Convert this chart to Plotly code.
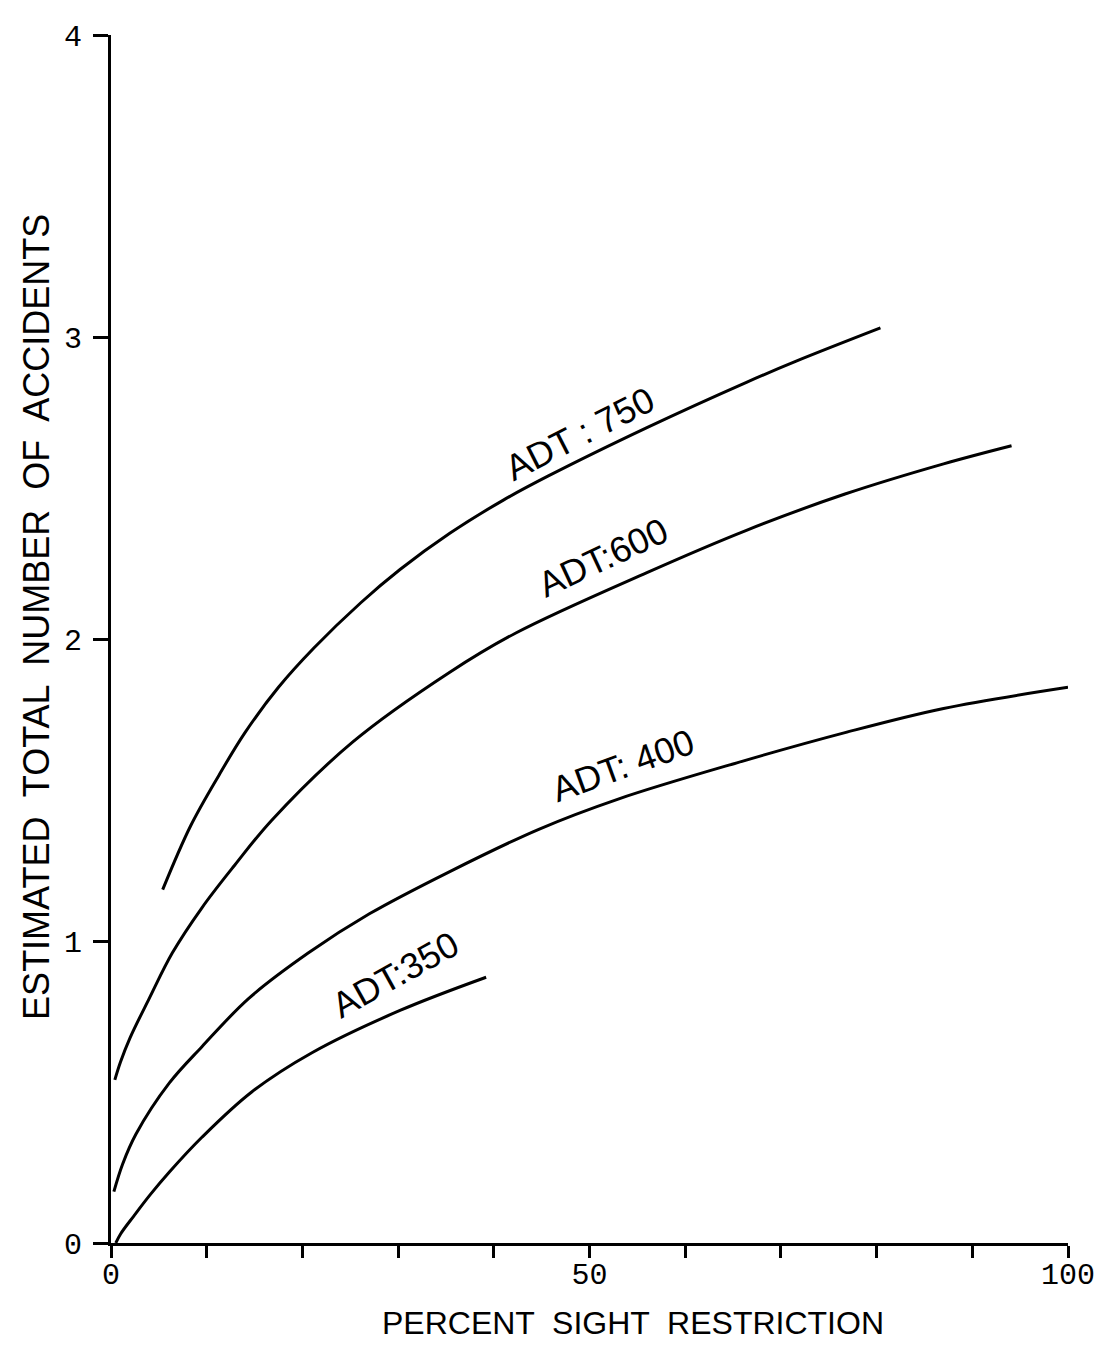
import plotly.graph_objects as go

# ---- data ----
adt750_x = [5.4, 8.3, 11.3, 14.0, 17.5, 21.2, 26.1, 30.2, 35.4, 41.0, 45.7, 56.0, 66.4, 71.6, 80.4]
adt750_y = [1.17, 1.38, 1.55, 1.69, 1.84, 1.97, 2.12, 2.23, 2.35, 2.46, 2.54, 2.70, 2.85, 2.92, 3.03]

adt600_x = [0.4, 1.0, 2.0, 4.0, 6.4, 9.5, 12.9, 16.8, 25.3, 35.4, 42.3, 56.0, 66.4, 76.7, 87.0, 94.1]
adt600_y = [0.54, 0.60, 0.68, 0.81, 0.96, 1.11, 1.25, 1.40, 1.66, 1.89, 2.02, 2.22, 2.36, 2.48, 2.58, 2.64]

adt400_x = [0.3, 1.2, 2.6, 6.1, 9.5, 14.4, 20.6, 27.0, 35.4, 44.7, 53.0, 65.4, 76.7, 87.0, 100.0]
adt400_y = [0.17, 0.26, 0.36, 0.53, 0.65, 0.81, 0.96, 1.09, 1.23, 1.37, 1.47, 1.59, 1.69, 1.77, 1.84]

adt350_x = [0.5, 1.0, 2.4, 4.1, 6.1, 9.5, 14.7, 21.0, 30.2, 39.2]
adt350_y = [0.0, 0.03, 0.09, 0.16, 0.235, 0.35, 0.50, 0.63, 0.77, 0.88]

series_x = [adt750_x, adt600_x, adt400_x, adt350_x]
series_y = [adt750_y, adt600_y, adt400_y, adt350_y]

label_text = ["ADT : 750", "ADT:600", "ADT: 400", "ADT:350"]
label_x = [49.0, 51.4, 53.5, 29.7]
label_y = [2.68, 2.27, 1.58, 0.89]
label_angle = [-27, -25, -20, -29]

x_tickvals = [0, 10, 20, 30, 40, 50, 60, 70, 80, 90, 100]
x_ticktext = ["0", "", "", "", "", "50", "", "", "", "", "100"]
y_tickvals = [0, 1, 2, 3, 4]
y_ticktext = ["0", "1", "2", "3", "4"]

x_title = "PERCENT  SIGHT  RESTRICTION"
y_title = "ESTIMATED  TOTAL  NUMBER  OF  ACCIDENTS"

SANS = "Liberation Sans, Arial, sans-serif"
MONO = "Liberation Mono, Courier New, monospace"

# ---- figure ----
fig = go.Figure()
for xs, ys in zip(series_x, series_y):
    fig.add_trace(go.Scatter(
        x=xs, y=ys, mode="lines",
        line=dict(color="black", width=3, shape="spline", smoothing=1.0),
        showlegend=False, hoverinfo="skip",
    ))

for t, lx, ly, ang in zip(label_text, label_x, label_y, label_angle):
    fig.add_annotation(
        x=lx, y=ly, xref="x", yref="y", text=t, showarrow=False,
        textangle=ang, xanchor="center", yanchor="middle",
        font=dict(family=SANS, size=36, color="black"),
    )

fig.add_annotation(
    x=-0.0777, y=0.518, xref="paper", yref="paper", text=y_title, showarrow=False,
    textangle=-90, xanchor="center", yanchor="middle",
    font=dict(family=SANS, size=36, color="black"),
)
fig.add_annotation(
    x=0.545, y=-0.066, xref="paper", yref="paper", text=x_title, showarrow=False,
    xanchor="center", yanchor="middle",
    font=dict(family=SANS, size=32, color="black"),
)

# page body has a default margin -> shrink figure and shift margins to compensate
fig.update_layout(
    width=1099, height=1336,
    margin=dict(l=103, r=31, t=22, b=101),
    paper_bgcolor="white", plot_bgcolor="white",
    xaxis=dict(
        range=[0, 100], showgrid=False, zeroline=False,
        showline=True, linecolor="black", linewidth=3,
        ticks="outside", ticklen=12, tickwidth=3, tickcolor="black",
        tickvals=x_tickvals, ticktext=x_ticktext, ticklabelstandoff=-10,
        tickfont=dict(family=MONO, size=30, color="black"),
    ),
    yaxis=dict(
        range=[0, 4], showgrid=False, zeroline=False,
        showline=True, linecolor="black", linewidth=3,
        ticks="outside", ticklen=15, tickwidth=3, tickcolor="black",
        tickvals=y_tickvals, ticktext=y_ticktext, ticklabelstandoff=5,
        tickfont=dict(family=MONO, size=30, color="black"),
    ),
)

fig.write_html("out.html")
